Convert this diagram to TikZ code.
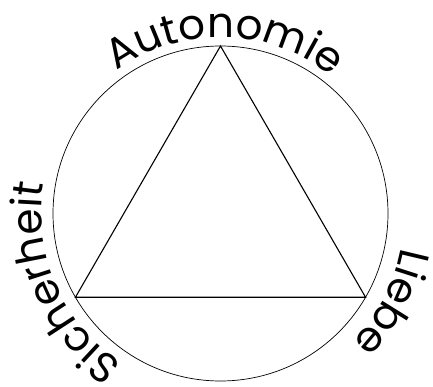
\documentclass[tikz,border=0pt]{standalone}
\usepackage{fontspec}
\setmainfont{Poppins}
\usetikzlibrary{decorations.text, calc}
\newcommand{\arcfont}{\fontsize{42}{42}\selectfont}
\tikzset{
    ring/.style={draw, line width=0.7pt},
    edge/.style={draw, line width=1.1pt},
    arclabel/.style={decorate, decoration={text along path, text align=center, text={|\arcfont|#1}}}
}
\begin{document}
\begin{tikzpicture}[x=1pt, y=1pt]
\useasboundingbox (0,0) rectangle (433,-387);
\coordinate (c) at (220.5,-213.5);
\coordinate (top) at ($(c)+(90:167.5)$);
\coordinate (left) at ($(c)+(210:167.5)$);
\coordinate (right) at ($(c)+(330:167.5)$);
\draw[ring] (c) circle[radius=167.5];
\draw[edge] (top) -- (left) -- (right) -- cycle;
\path[arclabel=Autonomie] ($(c)+(148.5:176)$) arc[start angle=148.5, end angle=28.5, radius=176];
\path[arclabel=Sicherheit] ($(c)+(253.5:179)$) arc[start angle=253.5, end angle=153.5, radius=179];
\path[arclabel=Liebe] ($(c)+(12.5:184)$) arc[start angle=12.5, end angle=-67.5, radius=184];
\end{tikzpicture}
\end{document}
